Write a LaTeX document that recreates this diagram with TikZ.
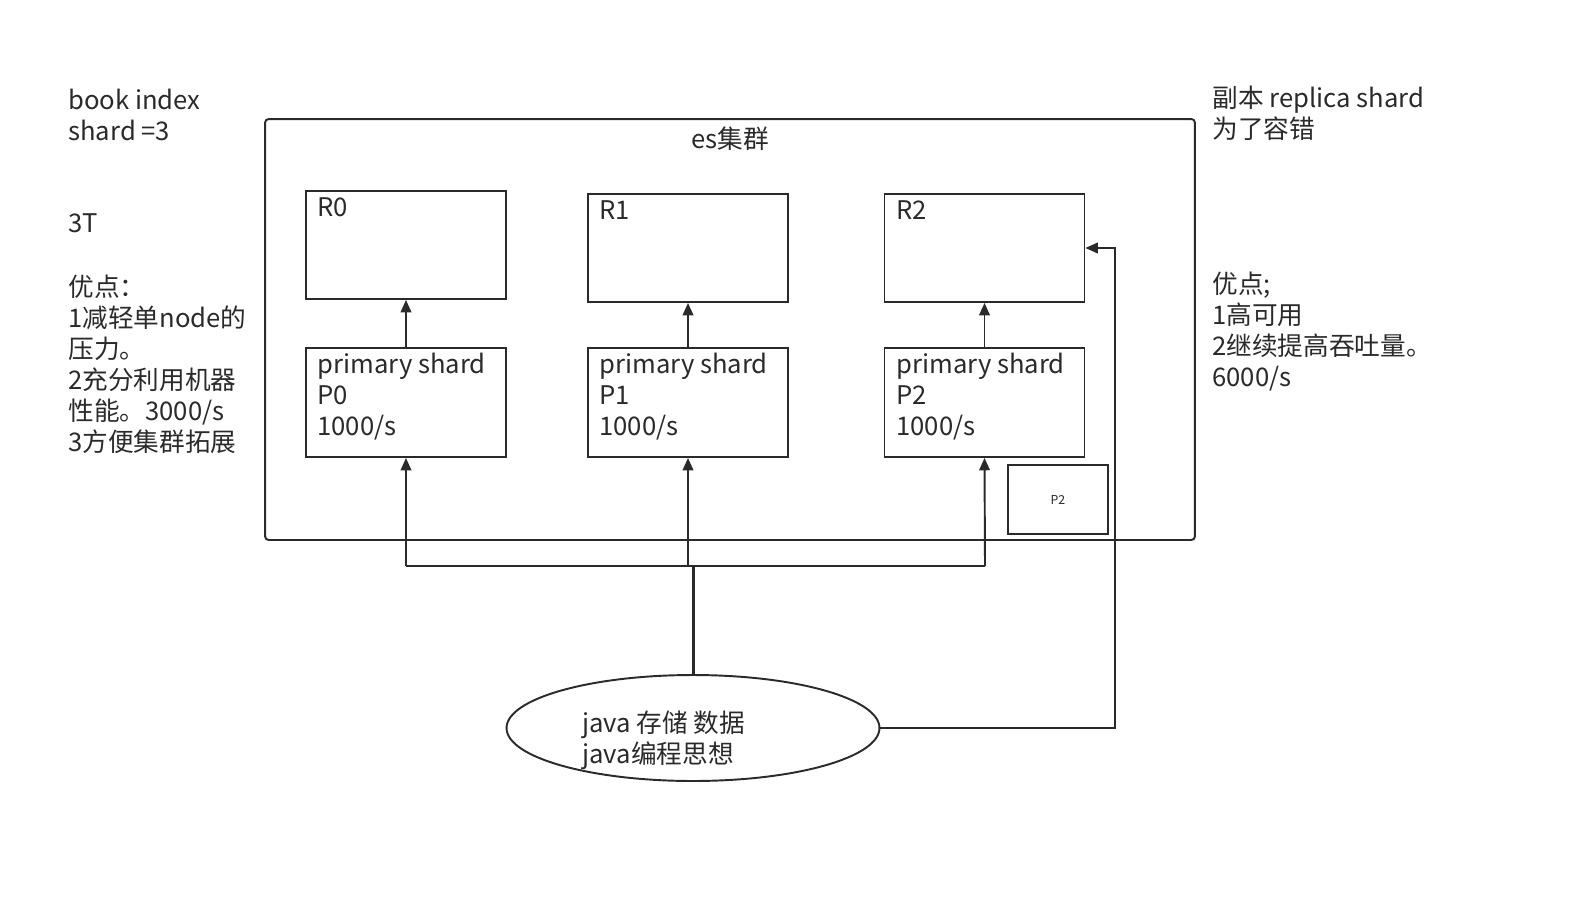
\documentclass[tikz,border=0pt]{standalone}
\usepackage{fontspec}
\setmainfont{Noto Sans CJK SC}
\usetikzlibrary{arrows.meta,shapes.geometric}

\definecolor{inkc}{HTML}{2A2A2A}

\tikzset{
  box/.style={draw=inkc, line width=1.1pt, inner sep=0pt},
  note/.style={anchor=north west, align=left, inner sep=0pt, text=inkc,
    font=\fontsize{14.6}{17.6}\selectfont},
  small/.style={inner sep=0pt, text=inkc, font=\fontsize{7}{8}\selectfont},
  link/.style={draw=inkc, line width=1.1pt, -{Triangle[length=7pt,width=6pt]}},
  wire/.style={draw=inkc, line width=1.1pt},
}

\begin{document}
\begin{tikzpicture}[x=0.02cm,y=-0.02cm]
\useasboundingbox (0,0) rectangle (1575,896);

% cluster
\node[box, rounded corners=2pt, minimum width=18.6cm, minimum height=8.42cm] (cluster) at (730,329.5) {};
\node[note, anchor=north] (clustername) at (730,127) {es集群};

% replica shards
\path (406,245) node[box, minimum width=4cm, minimum height=2.16cm](R0){}
      (688,248) node[box, minimum width=4cm, minimum height=2.16cm](R1){}
      (984.5,248) node[box, minimum width=4cm, minimum height=2.16cm](R2){};
% primary shards
\path (406,402.5) node[box, minimum width=4cm, minimum height=2.18cm](P0){}
      (688,402.5) node[box, minimum width=4cm, minimum height=2.18cm](P1){}
      (984.5,402.5) node[box, minimum width=4cm, minimum height=2.18cm](P2){}
      (1058,499.5) node[box, minimum width=2cm, minimum height=1.38cm](P2copy){};

\node[note] (R0name) at (317,197) {R0};
\node[note] (R1name) at (599,200) {R1};
\node[note] (R2name) at (896,200) {R2};
\node[note] (P0name) at (317,353) {primary shard\\P0\\1000/s};
\node[note] (P1name) at (599,353) {primary shard\\P1\\1000/s};
\node[note] (P2name) at (896,353) {primary shard\\P2\\1000/s};
\node[small] (P2copyname) at (P2copy) {P2};

% client
\node[draw=inkc, line width=1.1pt, ellipse, minimum width=7.46cm, minimum height=2.12cm] (client) at (693,728) {};
\node[note] (clientname) at (582,711) {java 存储 数据\\java编程思想};

% notes left and right
\node[note] (index) at (68,89) {book index\\shard =3};
\node[note] (size) at (68,213) {3T};
\node[note] (pros) at (68,275) {优点：\\1减轻单node的\\压力。\\2充分利用机器\\性能。3000/s\\3方便集群拓展};
\node[note] (replica) at (1212,86) {副本 replica shard\\为了容错};
\node[note] (gains) at (1212,272) {优点;\\1高可用\\2继续提高吞吐量。\\6000/s};

% primary to replica
\draw[link] (P0.north) -- (R0.south);
\draw[link] (P1.north) -- (R1.south);
\draw[link] (P2.north) -- (R2.south);

% client to primaries
\coordinate (hub) at (693,566);
\coordinate (j0) at (406,566);
\coordinate (j1) at (688,566);
\coordinate (j2) at (985,566);
\draw[wire, line width=1.7pt] (client.north) -- (hub);
\draw[wire] (j0) -- (j2);
\draw[link] (j0) -- (P0.south);
\draw[link] (j1) -- (P1.south);
\draw[link] (j2) -- (P2.south);

% client to replica
\coordinate (turn) at (1115,248);
\draw[link] (client.east) -| (turn) -- (R2.east);
\end{tikzpicture}
\end{document}
